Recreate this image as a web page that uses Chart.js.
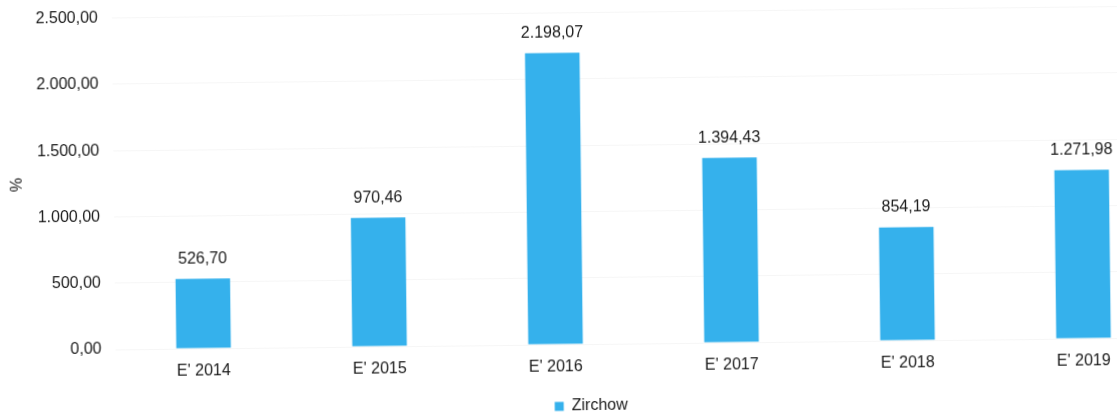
<!DOCTYPE html>
<html>
<head>
<meta charset="utf-8">
<script src="https://cdn.jsdelivr.net/npm/chart.js@4"></script>
<style>
  html, body { margin: 0; padding: 0; background: #fff; overflow: hidden; }
  #wrap { width: 1190px; height: 435px; margin-top: -11px; transform: rotate(-0.65deg); transform-origin: 595px 218px; }
</style>
</head>
<body>
<div id="wrap"><canvas id="barChart" width="1190" height="435"></canvas></div>
<script>
const categories = ["E' 2014", "E' 2015", "E' 2016", "E' 2017", "E' 2018", "E' 2019"];
const seriesName = 'Zirchow';
const values = [526.70, 970.46, 2198.07, 1394.43, 854.19, 1271.98];
const yTicks = [0, 500, 1000, 1500, 2000, 2500];

// 1234.5 -> "1.234,50"
function formatDe(v) {
    const parts = v.toFixed(2).split('.');
    const intPart = parts[0].replace(/\B(?=(\d{3})+(?!\d))/g, '.');
    return intPart + ',' + parts[1];
}

const textColor = '#1a1a1a';
const barColor = '#35b1ec';
const fontFamily = '"Liberation Sans", Arial, sans-serif';

// value labels above each bar
const valueLabels = {
    id: 'valueLabels',
    afterDatasetsDraw(chart) {
        const ctx = chart.ctx;
        const meta = chart.getDatasetMeta(0);
        ctx.save();
        ctx.font = '16px ' + fontFamily;
        ctx.fillStyle = textColor;
        ctx.textAlign = 'center';
        ctx.textBaseline = 'middle';
        meta.data.forEach((bar, i) => {
            ctx.fillText(formatDe(values[i]), bar.x, bar.y - 20);
        });
        ctx.restore();
    }
};

const ctx = document.getElementById('barChart').getContext('2d');
new Chart(ctx, {
    type: 'bar',
    data: {
        labels: categories,
        datasets: [{
            label: seriesName,
            data: values,
            backgroundColor: barColor,
            borderWidth: 0,
            categoryPercentage: 1,
            barPercentage: 0.31
        }]
    },
    options: {
        responsive: false,
        animation: false,
        layout: { padding: { top: 0, left: 8, right: 20, bottom: 0 } },
        plugins: {
            legend: {
                position: 'bottom',
                labels: {
                    boxWidth: 9,
                    boxHeight: 9,
                    padding: 4,
                    color: textColor,
                    font: { family: fontFamily, size: 16 }
                }
            },
            tooltip: { enabled: false }
        },
        scales: {
            x: {
                grid: { display: false },
                border: { display: false },
                afterFit(axis) { axis.height = 50; },
                ticks: {
                    color: textColor,
                    padding: 5,
                    font: { family: fontFamily, size: 16 }
                }
            },
            y: {
                min: 0,
                max: 2500,
                afterBuildTicks(axis) {
                    axis.ticks = yTicks.map(v => ({ value: v }));
                },
                afterFit(axis) { axis.width = 106; },
                grid: { color: '#f6f6f6', drawTicks: false },
                border: { display: false },
                title: {
                    display: true,
                    text: '%',
                    color: textColor,
                    padding: 0,
                    font: { family: fontFamily, size: 16 }
                },
                ticks: {
                    color: textColor,
                    padding: 14,
                    callback: v => formatDe(v),
                    font: { family: fontFamily, size: 16 }
                }
            }
        }
    },
    plugins: [valueLabels]
});
</script>
</body>
</html>
